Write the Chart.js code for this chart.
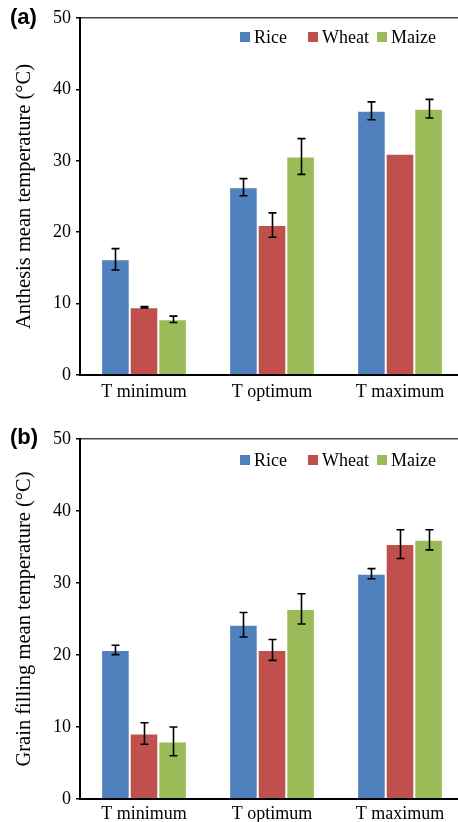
<!DOCTYPE html>
<html>
<head>
<meta charset="utf-8">
<script src="https://cdn.jsdelivr.net/npm/chart.js@4.4.0/dist/chart.umd.min.js"></script>
<style>
  html, body { margin: 0; padding: 0; background: #fff; overflow: hidden; width: 458px; height: 822px; }
  .panel { position: absolute; left: 0; width: 464px; }
  #wrapA { top: 0; height: 411px; }
  #wrapB { top: 420px; height: 415px; }
</style>
</head>
<body>
<div class="panel" id="wrapA"><canvas id="chartA"></canvas></div>
<div class="panel" id="wrapB"><canvas id="chartB"></canvas></div>
<script>
// categories and series
var categories = ["T minimum", "T optimum", "T maximum"];
var seriesNames = ["Rice", "Wheat", "Maize"];
var seriesColors = ["#4F81BD", "#C0504D", "#9BBB59"];
var yTicks = [0, 10, 20, 30, 40, 50];

// (a) anthesis
var riceA = [16.2, 26.3, 37.0];
var wheatA = [9.5, 21.0, 31.0];
var maizeA = [7.8, 30.6, 37.3];
var riceErrA = [1.5, 1.2, 1.25];
var wheatErrA = [0.1, 1.7, 0];
var maizeErrA = [0.45, 2.5, 1.3];

// (b) grain filling
var riceB = [20.7, 24.2, 31.3];
var wheatB = [9.1, 20.7, 35.4];
var maizeB = [8.0, 26.4, 36.0];
var riceErrB = [0.65, 1.7, 0.7];
var wheatErrB = [1.5, 1.45, 2.0];
var maizeErrB = [2.0, 2.1, 1.4];

var serif = "'Liberation Serif', 'Times New Roman', serif";

var errorBars = {
  id: "errorBars",
  afterDatasetsDraw: function(chart) {
    var ctx = chart.ctx, y = chart.scales.y;
    ctx.save();
    ctx.strokeStyle = "#000";
    ctx.lineWidth = 1.6;
    chart.data.datasets.forEach(function(ds, i) {
      var meta = chart.getDatasetMeta(i);
      meta.data.forEach(function(bar, j) {
        var e = ds.errors[j];
        if (!e) return;
        var top = y.getPixelForValue(ds.data[j] + e);
        var bot = y.getPixelForValue(ds.data[j] - e);
        var x = Math.round(bar.x) + 0.5;
        ctx.beginPath();
        ctx.moveTo(x, top); ctx.lineTo(x, bot);
        ctx.moveTo(x - 4, top); ctx.lineTo(x + 4, top);
        ctx.moveTo(x - 4, bot); ctx.lineTo(x + 4, bot);
        ctx.stroke();
      });
    });
    ctx.restore();
  }
};

var insideLegend = {
  id: "insideLegend",
  afterDraw: function(chart, args, opts) {
    var ctx = chart.ctx, a = chart.chartArea;
    var offsets = [160, 228, 297];
    var cy = a.top + opts.dy;
    ctx.save();
    ctx.font = "18px " + serif;
    ctx.textBaseline = "middle";
    chart.data.datasets.forEach(function(ds, i) {
      var x = a.left + offsets[i];
      ctx.fillStyle = ds.backgroundColor;
      ctx.fillRect(x, cy - 5, 10, 10);
      ctx.fillStyle = "#000";
      ctx.fillText(ds.label, x + 14, cy + 1);
    });
    ctx.restore();
  }
};

var panelLabel = {
  id: "panelLabel",
  afterDraw: function(chart, args, opts) {
    var ctx = chart.ctx;
    ctx.save();
    ctx.font = "bold 22px 'Liberation Sans', Arial, sans-serif";
    ctx.textBaseline = "middle";
    ctx.fillStyle = "#000";
    ctx.fillText(opts.text, 10, opts.y);
    ctx.restore();
  }
};

function makeChart(id, data, errs, title, label, legendDy, labelY, padTop, xPad) {
  return new Chart(document.getElementById(id), {
    type: "bar",
    data: {
      labels: categories,
      datasets: seriesNames.map(function(n, i) {
        return {
          label: n,
          data: data[i],
          errors: errs[i],
          backgroundColor: seriesColors[i],
          borderColor: "rgba(255,255,255,0.45)",
          borderWidth: 1,
          categoryPercentage: 0.67,
          barPercentage: 1
        };
      })
    },
    options: {
      responsive: true,
      maintainAspectRatio: false,
      animation: false,
      layout: { padding: { top: padTop, left: 0, right: 0, bottom: 0 } },
      plugins: {
        legend: { display: false },
        tooltip: { enabled: false },
        insideLegend: { dy: legendDy },
        panelLabel: { text: label, y: labelY }
      },
      scales: {
        x: {
          grid: { display: false, drawTicks: false },
          border: { color: "#000", width: 2 },
          ticks: { color: "#000", padding: xPad, font: { family: serif, size: 18 } },
          afterFit: function(s) { s.height = 36; }
        },
        y: {
          min: 0, max: 50,
          afterBuildTicks: function(s) { s.ticks = yTicks.map(function(v) { return { value: v }; }); },
          grid: {
            drawOnChartArea: true,
            color: function(c) { return c.tick && c.tick.value === 50 ? "#444" : "rgba(0,0,0,0)"; },
            lineWidth: 1.5,
            tickColor: "#000",
            tickLength: 4
          },
          border: { color: "#000", width: 2 },
          ticks: { color: "#000", padding: 5, font: { family: serif, size: 18 } },
          title: { display: true, text: title, color: "#000", padding: { top: 12, bottom: 0 }, font: { family: serif, size: 20.5 } },
          afterFit: function(s) { s.width = 80; }
        }
      }
    },
    plugins: [errorBars, insideLegend, panelLabel]
  });
}

makeChart("chartA", [riceA, wheatA, maizeA], [riceErrA, wheatErrA, maizeErrA],
  "Anthesis mean temperature (\u00b0C)", "(a)", 19, 18, 18, 6);
makeChart("chartB", [riceB, wheatB, maizeB], [riceErrB, wheatErrB, maizeErrB],
  "Grain filling mean temperature (\u00b0C)", "(b)", 21, 18, 19, 4);
</script>
</body>
</html>
